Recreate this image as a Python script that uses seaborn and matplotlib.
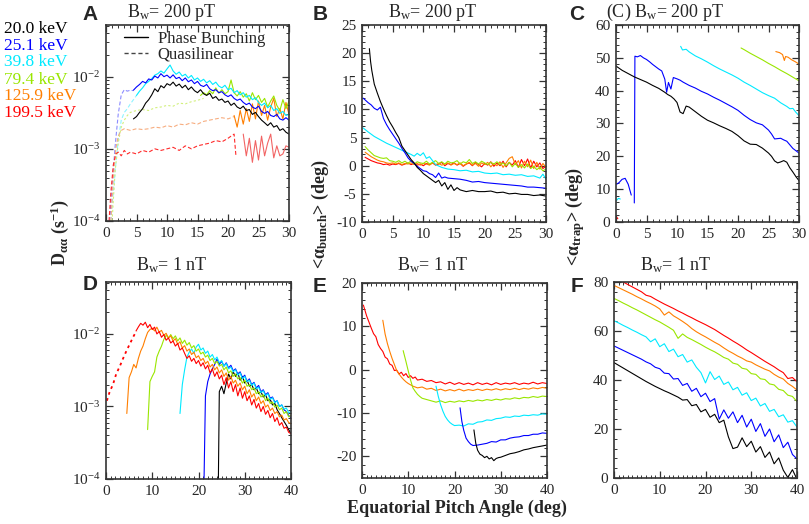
import numpy as np
import seaborn as sns
import matplotlib.pyplot as plt
from matplotlib.lines import Line2D
from matplotlib.ticker import MultipleLocator, LogLocator, LogFormatterMathtext, NullFormatter

sns.set_style("ticks")
plt.rcParams["font.family"] = ["Liberation Serif", "DejaVu Serif"]
plt.rcParams["mathtext.fontset"] = "custom"
plt.rcParams["mathtext.rm"] = "Liberation Serif"
plt.rcParams["mathtext.it"] = "Liberation Serif:italic"
plt.rcParams["mathtext.bf"] = "Liberation Serif:bold"
plt.rcParams["axes.unicode_minus"] = False

# ---------------- labels / colours ----------------
energies = ["20.0 keV", "25.1 keV", "39.8 keV", "79.4 keV", "125.9 keV", "199.5 keV"]
colors = ["#000000", "#0000ff", "#00eaff", "#99e600", "#ff7f00", "#ff0000"]
light = ["#000000", "#8c8cff", "#8ff4ff", "#d2f07c", "#f7ad80", "#ff2a2a"]

# ---------------- panel A: Daa, Bw = 200 pT (units of 1e-3 s^-1) ----------------
a_black_x = np.arange(4.5, 30.01, 0.5)
a_black = [2.6, 2.8, 3.2, 3.6, 4.3, 4.8, 5.6, 6.8, 6.2, 7.5,
           7.0, 8.0, 7.6, 8.4, 7.4, 7.9, 7.0, 7.6, 6.6, 7.2,
           6.4, 6.0, 6.6, 5.8, 5.5, 5.9, 5.0, 5.3, 4.7, 4.9,
           4.4, 4.6, 4.0, 4.3, 3.8, 3.6, 3.9, 3.4, 3.5, 3.0,
           3.2, 2.8, 2.5, 2.3, 2.1, 2.3, 2.0, 2.1, 1.8, 1.9,
           1.7, 1.6]
a_blue_x = np.arange(4.5, 30.01, 0.5)
a_blue = [6.5, 7.2, 7.8, 8.6, 8.2, 9.3, 9.0, 10.2, 9.6, 11.0,
          10.0, 10.5, 9.6, 10.6, 9.4, 9.8, 8.8, 9.6, 8.5, 9.0,
          8.0, 8.6, 7.6, 7.3, 7.8, 6.8, 6.4, 6.6, 6.0, 6.2,
          5.6, 5.3, 5.6, 5.0, 4.7, 4.9, 4.4, 4.1, 4.3, 3.8,
          3.6, 3.9, 3.3, 3.1, 3.3, 2.9, 2.8, 3.0, 2.6, 2.5,
          2.7, 2.5]
a_cyan_x = np.arange(5.0, 30.01, 0.5)
a_cyan = [5.5, 6.3, 7.0, 8.0, 8.6, 9.4, 10.5, 11.0, 12.0, 11.2,
          12.8, 14.5, 12.0, 10.8, 11.6, 10.2, 10.8, 9.6, 10.4, 9.0,
          9.6, 8.6, 9.2, 8.2, 8.8, 7.8, 8.4, 7.4, 7.0, 7.6,
          6.6, 6.9, 6.0, 6.4, 5.6, 6.0, 5.2, 5.5, 4.8, 5.1,
          4.4, 4.0, 4.3, 3.7, 4.0, 3.4, 3.6, 3.1, 3.3, 2.9,
          3.0]
a_yg_x = np.arange(15.5, 30.01, 0.5)
a_yg = [5.5, 6.0, 5.6, 6.4, 5.8, 7.0, 5.9, 6.6, 5.8, 6.2,
        9.0, 6.0, 5.4, 6.2, 5.2, 5.8, 4.6, 6.0, 4.8, 5.5,
        4.4, 5.0, 3.8, 4.6, 5.4, 4.0, 3.4, 4.8, 3.6, 4.6]
a_orange_x = np.arange(21.0, 30.01, 0.5)
a_orange = [2.9, 2.0, 3.4, 2.2, 3.6, 2.4, 4.2, 2.6, 4.6, 2.9,
            4.0, 2.5, 3.8, 5.0, 2.8, 3.6, 2.6, 4.4, 3.0]
a_red_x = np.arange(22.5, 30.01, 0.5)
a_red = [1.6, 0.8, 1.4, 0.65, 1.3, 0.7, 1.5, 0.8, 1.2, 1.6,
         0.75, 1.1, 0.8, 0.85, 1.1, 1.05]

# quasilinear (dashed)
ql_blue_x = [0.6, 1, 1.5, 2, 2.5, 3, 3.5, 4, 4.5]
ql_blue = [0.1, 0.3, 1.1, 3.0, 5.6, 6.6, 6.3, 6.5, 6.4]
ql_cyan_x = [0.8, 1.2, 1.6, 2, 2.5, 3, 3.5, 4, 4.5, 5]
ql_cyan = [0.1, 0.25, 0.6, 1.3, 2.5, 3.2, 3.6, 4.2, 4.8, 5.5]
ql_yg_x = [1, 1.5, 2, 2.5, 3, 3.5, 4, 5, 6, 7, 8, 9, 10, 11, 12, 13, 14, 15, 16]
ql_yg = [0.1, 0.5, 1.2, 2.0, 2.5, 2.9, 3.2, 3.4, 3.5, 3.4, 3.7, 3.8, 4.0, 3.9, 4.3, 4.2, 4.5, 4.7, 5.0]
ql_orange_x = [0.8, 1.2, 1.6, 2, 2.5, 3, 3.5, 4, 5, 6, 7, 8, 9, 10, 11, 12, 13, 14, 15, 16,
               17, 18, 19, 20, 21]
ql_orange = [0.1, 0.4, 1.0, 1.5, 1.8, 1.9, 1.85, 1.8, 1.9, 1.85, 1.9, 2.0, 1.95, 2.1, 2.0, 2.2,
             2.15, 2.3, 2.2, 2.4, 2.5, 2.6, 2.7, 2.6, 2.8]
ql_red_x = [0.5, 0.8, 1.2, 1.6, 2, 2.5, 3, 3.5, 4, 5, 6, 7, 8, 9, 10, 11, 12, 13, 14, 15,
            16, 17, 18, 19, 20, 20.5, 21, 21.3]
ql_red = [0.1, 0.25, 0.6, 0.85, 0.9, 0.8, 0.95, 0.85, 0.9, 0.85, 0.95, 0.9, 1.0, 0.95, 1.0,
          1.05, 0.95, 1.1, 1.0, 1.1, 1.15, 1.2, 1.3, 1.25, 1.4, 1.5, 1.6, 0.8]

# ---------------- panel B: <alpha_bunch>, Bw = 200 pT ----------------
b_black_x = [1.2, 1.4, 1.6, 2, 2.5, 3, 3.5, 4, 4.5, 5, 5.5, 6, 6.5, 7, 7.5, 8, 8.5, 9, 9.5, 10,
             10.5, 11, 11.5, 12, 12.5, 13, 13.5, 14, 14.5, 15, 15.5, 16, 17, 18, 19, 20, 21, 22,
             23, 24, 25, 26, 27, 28, 29, 30]
b_black = [20.8, 18.5, 16.9, 14.5, 12.9, 11.4, 10.1, 8.9, 7.8, 6.9,
           5.9, 5.0, 3.5, 2.7, 1.9, 1.1, 0.5, -0.3, -0.8, -1.4,
           -1.8, -2.2, -2.6, -3.0, -2.6, -3.6, -3.0, -4.2, -3.4, -4.4,
           -3.9, -4.3, -4.6, -4.4, -4.6, -4.6, -4.5, -4.8, -4.7, -5.0,
           -4.9, -5.1, -5.1, -5.3, -5.2, -5.4]
b_blue_x = [0.2, 0.5, 1, 1.5, 2, 2.5, 3, 3.5, 4, 4.5, 5, 5.5, 6, 6.5, 7, 7.5, 8, 8.5, 9, 9.5,
            10, 10.5, 11, 11.5, 12, 12.5, 13, 13.5, 14, 15, 16, 17, 18, 19, 20, 21, 22, 23, 24,
            25, 26, 27, 28, 29, 30]
b_blue = [12.0, 11.7, 11.2, 10.8, 10.2, 9.9, 10.4, 8.4, 7.3, 6.4,
          5.6, 4.8, 4.0, 3.1, 2.3, 1.4, 0.8, 0.4, -0.1, -0.5,
          -0.9, -1.0, -1.4, -1.6, -2.1, -1.3, -2.2, -2.0, -2.2, -2.3,
          -2.4, -2.6, -2.9, -2.8, -3.0, -3.1, -3.2, -3.3, -3.4, -3.5,
          -3.6, -3.8, -3.8, -3.9, -4.0]
b_cyan_x = [0.2, 1, 2, 3, 4, 5, 6, 7, 8, 8.5, 9, 9.5, 10, 10.5, 11, 11.5, 12, 13, 14, 15,
            16, 17, 18, 19, 20, 21, 22, 23, 24, 25, 26, 27, 28, 29, 29.5, 30]
b_cyan = [6.7, 6.0, 5.2, 4.6, 4.0, 3.5, 3.0, 2.5, 2.0, 1.7,
          2.2, 1.8, 2.3, 1.3, 1.6, 0.9, 0.2, -0.3, -0.6, -0.7,
          -0.9, -0.8, -1.1, -1.0, -1.3, -1.4, -1.3, -1.6, -1.5, -1.7,
          -1.6, -1.9, -1.8, -2.2, -1.5, -2.4]
b_grid = np.arange(0.5, 30.01, 0.5)
b_yg = [3.4, 2.8, 2.3, 1.8, 1.6, 1.4, 1.3, 1.4, 0.9, 0.8,
        0.6, 0.9, 0.5, 0.8, 0.4, 0.9, 0.3, 0.7, 0.5, 0.4,
        0.8, 0.3, 0.6, 0.9, 0.4, 0.7, 0.3, 0.8, 0.5, 0.6,
        0.9, 0.3, 0.7, 0.5, 1.1, 0.4, 0.7, 0.3, 0.8, 0.5,
        0.2, 0.6, 0.3, 0.7, 0.2, 0.5, 0.0, 0.6, -0.2, 0.4,
        -0.3, 0.2, -0.4, 0.3, -0.5, -0.1, -0.7, -0.3, -0.9, -0.6]
b_orange = [2.4, 2.0, 1.6, 1.3, 1.0, 0.8, 0.7, 0.5, 0.4, 0.5,
            0.3, 0.5, 0.2, 0.4, 0.3, 0.5, 0.2, 0.4, 0.1, 0.4,
            0.3, 0.1, 0.5, 0.2, 0.4, 0.1, 0.3, 0.5, 0.1, 0.4,
            0.2, 0.5, 0.0, 0.3, 0.6, 0.1, 0.4, -0.1, 0.5, 0.2,
            0.6, -0.2, 0.4, 0.0, 0.7, -0.3, 0.5, 1.3, 1.6, 0.2,
            0.9, -0.4, 0.8, -0.2, 1.0, -0.5, 0.6, -0.6, 0.4, -0.3]
b_red = [1.5, 1.2, 0.9, 0.7, 0.5, 0.4, 0.2, 0.3, 0.1, 0.3,
         0.2, 0.4, 0.1, 0.3, 0.5, 0.2, 0.4, 0.1, 0.3, 0.0,
         0.4, 0.2, 0.5, 0.1, 0.3, 0.6, 0.0, 0.4, 0.2, 0.5,
         0.1, 0.4, -0.1, 0.3, 0.5, 0.0, 0.6, 0.2, -0.2, 0.4,
         0.1, 0.7, -0.1, 0.5, 0.0, 0.8, -0.2, 0.6, 0.1, 0.9,
         -0.3, 1.1, 0.0, 1.2, -0.4, 0.8, -0.2, 0.5, -0.5, -0.1]

# ---------------- panel C: <alpha_trap>, Bw = 200 pT ----------------
c_black_x = [0, 1, 2, 3, 4, 5, 6, 7, 8, 8.5, 9, 9.5, 10, 10.5, 11, 11.5, 12, 13, 14, 15,
             16, 17, 18, 19, 20, 21, 22, 23, 24, 25, 25.5, 26, 26.5, 27, 27.5, 28, 28.5, 29,
             29.5, 30]
c_black = [47.5, 46.2, 45.2, 44.2, 43.4, 42.6, 41.6, 40.7, 39.5, 38.8,
           38.3, 37.5, 36.4, 33.5, 33.0, 35.3, 35.0, 33.6, 32.2, 31.0,
           30.2, 29.3, 28.5, 27.6, 26.3, 24.7, 23.7, 23.6, 22.5, 21.0,
           20.0, 18.6, 18.0, 18.3, 18.7, 18.2, 16.5, 15.2, 13.8, 12.6]
c_blue1_x = [0.1, 0.5, 1, 1.5, 2, 2.5]
c_blue1 = [11.5, 12.0, 13.0, 13.3, 11.5, 8.2]
c_blue2_x = [3.0, 3.1, 3.5, 4, 4.5, 5, 5.5, 6, 6.5, 7, 7.5, 8, 8.3, 8.6, 9, 9.4, 10, 10.5,
             11, 12, 13, 14, 15, 16, 17, 18, 19, 20, 21, 22, 23, 24, 25, 25.5, 26, 27, 27.5,
             28, 29, 30]
c_blue2 = [5.8, 50.5, 50.3, 50.7, 50.0, 49.5, 48.8, 48.0, 47.3, 46.6,
           46.0, 43.5, 39.5, 42.5, 40.5, 44.0, 43.6, 43.2, 42.6, 41.6,
           40.8, 39.8, 39.0, 38.0, 37.1, 36.1, 35.1, 34.0, 32.5, 31.2,
           30.2, 29.6, 28.0, 26.8, 25.3, 25.5, 25.0, 24.6, 22.4, 21.0]
c_cyan1_x = [0.1, 0.4, 0.7]
c_cyan1 = [6.6, 7.2, 7.0]
c_cyan2_x = [10.6, 10.9, 11.5, 12, 13, 14, 15, 16, 17, 18, 19, 20, 21, 22, 23, 24, 25, 26,
             27, 28, 28.5, 29, 29.5, 30]
c_cyan2 = [53.5, 52.4, 52.6, 51.8, 50.6, 49.7, 48.7, 47.6, 46.6, 45.7,
           44.8, 43.8, 42.6, 41.6, 40.5, 39.4, 38.5, 37.7, 36.3, 35.2,
           34.5, 34.6, 33.4, 32.4]
c_yg_x = [20.5, 21, 22, 23, 24, 25, 26, 27, 28, 29, 30]
c_yg = [53.0, 52.5, 51.4, 50.4, 49.4, 48.3, 47.3, 46.2, 45.2, 44.1, 43.0]
c_orange_x = [26.2, 26.8, 27.3, 27.6, 27.8, 28.2, 28.8, 29.4, 30]
c_orange = [51.9, 51.6, 51.0, 49.2, 50.4, 50.2, 49.4, 48.8, 48.1]
c_red_x = [0.1, 0.3]
c_red = [1.5, 1.0]

# ---------------- panel D: Daa, Bw = 1 nT (units of 1e-3 s^-1) ----------------
d_red_dot_x = [0.2, 0.8, 1.5, 2.2, 3, 3.7, 4.4, 5.2, 6, 6.6]
d_red_dot = [1.2, 1.6, 2.0, 2.8, 3.6, 4.6, 5.8, 7.4, 9.4, 11.0]
d_red_x = np.arange(6.5, 40.01, 0.5)
d_red = [11, 12.5, 14, 13.2, 14.5, 12.2, 13.5, 11.5, 12.4, 10.0,
         10.8, 9.0, 9.8, 8.2, 8.8, 7.5, 8.0, 6.8, 7.4, 6.0,
         6.4, 5.4, 4.6, 5.0, 4.2, 4.6, 3.9, 4.3, 3.6, 4.0,
         3.3, 3.7, 2.9, 3.3, 2.6, 3.0, 2.4, 2.7, 2.0, 2.5,
         1.8, 2.2, 1.6, 2.0, 1.4, 1.8, 1.3, 1.6, 1.2, 1.4,
         1.05, 1.25, 0.95, 1.1, 0.85, 1.0, 0.78, 0.88, 0.7, 0.8,
         0.62, 0.7, 0.55, 0.6, 0.5, 0.52, 0.44, 0.42]
d_orange_x = np.arange(4.5, 40.01, 0.5)
d_orange = [0.8, 2.5, 3.0, 3.8, 3.4, 4.6, 5.8, 6.8, 8.6, 10.5,
            11.5, 12.0, 11.0, 12.4, 10.6, 11.2, 9.6, 10.2, 8.8, 9.4,
            8.0, 8.6, 7.2, 7.8, 6.4, 6.9, 5.8, 6.2, 5.2, 5.6,
            4.7, 5.0, 4.3, 4.6, 3.9, 4.2, 3.5, 3.8, 3.2, 3.5,
            2.9, 3.2, 2.6, 2.9, 2.3, 2.6, 2.1, 2.3, 1.9, 2.1,
            1.7, 1.9, 1.5, 1.7, 1.35, 1.5, 1.2, 1.35, 1.1, 1.2,
            0.98, 1.05, 0.88, 0.95, 0.8, 0.85, 0.72, 0.76, 0.65, 0.68,
            0.6, 0.58]
d_yg_x = np.arange(9.0, 40.01, 0.5)
d_yg = [0.48, 2.2, 2.6, 3.0, 4.8, 5.8, 6.8, 8.4, 9.6, 8.8,
        9.8, 8.6, 9.4, 8.0, 8.8, 7.4, 8.2, 7.0, 7.6, 6.4,
        6.9, 5.8, 6.2, 5.3, 5.6, 4.8, 5.1, 4.3, 4.6, 3.9,
        4.2, 3.6, 3.8, 3.2, 3.5, 2.9, 3.1, 2.6, 2.8, 2.4,
        2.5, 2.1, 2.3, 1.9, 2.0, 1.7, 1.8, 1.5, 1.6, 1.35,
        1.45, 1.2, 1.3, 1.1, 1.15, 0.98, 1.05, 0.9, 0.95, 0.8,
        0.85, 0.72, 0.75]
d_cyan_x = np.arange(16.0, 40.01, 0.5)
d_cyan = [0.8, 2.0, 3.2, 4.8, 5.6, 6.2, 5.4, 6.6, 7.2, 6.0,
          6.4, 5.4, 5.8, 4.8, 5.2, 4.4, 4.8, 4.0, 4.3, 3.6,
          3.9, 3.3, 3.5, 3.0, 3.2, 2.7, 2.9, 2.4, 2.6, 2.2,
          2.3, 1.95, 2.1, 1.75, 1.85, 1.55, 1.65, 1.4, 1.5, 1.25,
          1.32, 1.12, 1.2, 1.0, 1.05, 0.92, 0.95, 0.82, 0.85]
d_blue_x = np.r_[21.2, np.arange(21.5, 40.01, 0.5)]
d_blue = [0.1, 1.4, 2.2, 2.8, 3.3, 3.8, 4.5, 3.8, 4.2, 3.6,
          4.0, 3.4, 3.7, 3.1, 3.3, 2.8, 3.0, 2.5, 2.7, 2.2,
          2.4, 2.0, 2.15, 1.8, 1.95, 1.6, 1.7, 1.45, 1.55, 1.3,
          1.35, 1.15, 1.2, 1.0, 1.05, 0.9, 0.85, 0.75, 0.7]
d_black_x = np.r_[24.3, np.arange(24.5, 40.01, 0.5)]
d_black = [0.1, 1.6, 1.9, 1.5, 2.1, 2.8, 2.4, 3.0, 2.6, 2.9,
           2.3, 2.6, 2.1, 2.3, 1.9, 2.0, 1.7, 1.8, 1.5, 1.6,
           1.35, 1.45, 1.2, 1.25, 1.05, 1.1, 0.9, 0.8, 0.7, 0.62,
           0.55, 0.48, 0.42]

# ---------------- panel E: <alpha_bunch>, Bw = 1 nT ----------------
e_red_x = [0.3, 1, 1.5, 2, 2.5, 3, 3.5, 4, 4.5, 5, 5.5, 6, 6.5, 7, 7.5, 8, 8.5, 9, 9.5, 10,
           10.5, 11, 11.5, 12, 13, 14, 15, 16, 17, 18, 19, 20, 21, 22, 23, 24, 25, 26, 27, 28,
           29, 30, 31, 32, 33, 34, 35, 36, 37, 38, 39, 40]
e_red = [14.9, 12.4, 11.0, 9.6, 8.3, 7.6, 5.8, 4.9, 4.2, 2.9,
         2.5, 1.3, 1.0, -0.2, -0.1, -1.0, -0.6, -1.4, -0.9, -1.8,
         -1.4, -2.0, -1.7, -2.4, -2.2, -2.7, -2.5, -3.0, -2.8, -3.3,
         -2.9, -3.4, -3.0, -3.4, -3.1, -3.5, -3.0, -3.4, -3.1, -3.5,
         -3.0, -3.4, -3.1, -3.3, -3.0, -3.4, -3.1, -3.3, -2.9, -3.3,
         -3.0, -3.2]
e_orange_x = [4.5, 5, 5.5, 6, 6.5, 7, 7.5, 8, 8.5, 9, 9.5, 10, 10.5, 11, 12, 13, 14, 15, 16,
              17, 18, 19, 20, 21, 22, 23, 24, 25, 26, 27, 28, 29, 30, 31, 32, 33, 34, 35, 36,
              37, 38, 39, 40]
e_orange = [11.4, 8.2, 6.0, 4.2, 2.6, 1.2, -0.2, -1.0, -1.7, -2.3,
            -2.8, -3.2, -3.5, -3.8, -4.2, -4.0, -4.5, -4.3, -4.8, -4.5,
            -4.9, -4.6, -4.9, -4.5, -4.9, -4.6, -4.8, -4.5, -4.8, -4.5,
            -4.7, -4.4, -4.7, -4.4, -4.6, -4.3, -4.6, -4.3, -4.5, -4.2,
            -4.4, -4.1, -4.3]
e_yg_x = [8.9, 9.5, 10, 10.5, 11, 11.5, 12, 12.5, 13, 14, 15, 16, 17, 18, 19, 20, 21, 22, 23,
          24, 25, 26, 27, 28, 29, 30, 31, 32, 33, 34, 35, 36, 37, 38, 39, 40]
e_yg = [4.4, 1.9, -0.3, -2.4, -4.2, -5.0, -5.7, -6.2, -6.6, -6.9,
        -7.2, -7.5, -7.2, -7.6, -7.3, -7.5, -7.2, -7.4, -7.1, -7.3,
        -7.0, -7.2, -6.9, -7.1, -6.8, -7.0, -6.7, -6.8, -6.5, -6.7,
        -6.4, -6.5, -6.2, -6.4, -6.1, -6.2]
e_cyan_x = [16, 16.5, 17, 17.5, 18, 18.5, 19, 19.5, 20, 21, 22, 23, 24, 25, 26, 27, 28, 29,
            30, 31, 32, 33, 34, 35, 36, 37, 38, 39, 40]
e_cyan = [-3.8, -6.2, -8.1, -9.6, -10.8, -11.6, -12.2, -12.6, -12.9, -12.8,
          -13.0, -12.5, -12.6, -12.1, -12.0, -11.6, -11.7, -11.3, -11.2, -10.9,
          -11.0, -10.7, -10.8, -10.5, -10.6, -10.4, -10.5, -10.2, -10.3]
e_blue_x = [21.2, 21.6, 22, 22.5, 23, 23.5, 24, 25, 26, 27, 28, 29, 30, 31, 32, 33, 34, 35,
            36, 37, 38, 39, 40]
e_blue = [-8.8, -12.0, -14.0, -15.8, -16.6, -17.2, -17.5, -17.4, -17.2, -17.0,
          -16.6, -16.7, -16.2, -16.2, -15.8, -15.6, -15.5, -15.2, -15.2, -14.9,
          -14.9, -14.6, -14.7]
e_black_x = [24.2, 24.6, 25, 25.5, 26, 26.5, 27, 27.5, 28, 28.5, 29, 29.5, 30, 31, 32, 33, 34,
             35, 36, 37, 38, 39, 40]
e_black = [-13.9, -17.0, -18.6, -19.5, -19.8, -20.3, -20.0, -20.6, -20.3, -21.0,
           -20.5, -20.3, -20.2, -19.8, -19.4, -19.2, -18.9, -18.5, -18.3, -18.0,
           -17.8, -17.6, -17.4]

# ---------------- panel F: <alpha_trap>, Bw = 1 nT ----------------
f_x = np.arange(0, 41, 1)
f_red = [82.0, 81.0, 80.0, 79.0, 78.0, 77.0, 76.0, 74.6, 74.1, 73.0,
         72.0, 71.0, 70.1, 69.2, 68.2, 67.3, 66.3, 65.4, 64.4, 63.5,
         62.6, 61.6, 60.6, 59.4, 58.2, 57.1, 55.9, 54.8, 53.6, 52.3,
         51.2, 50.0, 48.8, 47.6, 46.5, 45.4, 44.1, 43.0, 40.6, 41.0,
         39.3]
f_orange = [78.6, 77.7, 76.8, 75.9, 75.0, 74.0, 73.1, 72.1, 71.2, 70.2,
            69.0, 66.5, 67.8, 66.2, 65.1, 63.9, 62.6, 61.0, 59.7, 58.6,
            57.6, 56.5, 55.4, 54.4, 53.1, 51.9, 50.9, 49.8, 48.9, 47.8,
            47.3, 46.2, 45.3, 44.4, 43.7, 42.3, 41.2, 40.4, 38.6, 37.4,
            35.9]
f_yg = [73.3, 72.4, 71.4, 70.5, 69.5, 68.6, 67.6, 66.6, 65.6, 64.6,
        63.7, 62.6, 61.5, 60.3, 57.0, 58.8, 57.4, 56.5, 55.5, 54.5,
        53.4, 52.4, 51.5, 50.4, 49.2, 48.5, 46.9, 46.4, 44.8, 44.4,
        42.6, 42.3, 40.5, 40.2, 38.4, 38.0, 36.2, 35.7, 33.8, 33.3,
        31.2]
f_cyan = [64.2, 63.3, 62.3, 61.4, 60.4, 59.5, 58.5, 57.6, 55.6, 56.8,
          53.6, 54.8, 51.6, 52.6, 49.5, 50.4, 47.3, 48.2, 45.2, 43.0,
          38.8, 43.4, 40.2, 41.6, 38.2, 39.2, 36.0, 37.0, 33.8, 34.8,
          31.6, 32.6, 29.4, 30.4, 27.2, 28.0, 25.0, 25.8, 22.8, 23.4,
          20.8]
f_blue = [53.9, 53.0, 52.1, 51.2, 50.3, 49.4, 48.5, 47.4, 46.6, 45.2,
          44.6, 42.8, 42.6, 40.4, 40.6, 37.8, 38.6, 35.4, 36.6, 33.2,
          34.6, 31.2, 32.4, 24.0, 27.8, 24.4, 27.0, 22.6, 25.6, 20.8,
          24.0, 19.0, 22.2, 17.0, 20.0, 14.8, 17.6, 12.4, 14.6, 9.6,
          7.8]
f_black = [47.1, 46.0, 44.9, 43.8, 42.7, 41.6, 40.5, 39.4, 38.4, 37.4,
           36.5, 35.6, 34.8, 33.9, 33.0, 31.8, 32.0, 29.5, 30.0, 27.0,
           28.0, 24.8, 26.0, 22.6, 23.6, 16.8, 12.0, 12.6, 16.4, 12.8,
           15.0, 10.6, 12.8, 8.4, 10.6, 5.8, 8.2, 3.2, 0.2, 3.4,
           -0.5]

# ---------------- figure ----------------
W, H = 809, 524
fig = plt.figure(figsize=(W / 100, H / 100), dpi=100)


def box(l, t, r, b):
    return [l / W, 1 - b / H, (r - l) / W, (b - t) / H]


def draw(ax, x, y, color, scale=1.0, **kw):
    sns.lineplot(x=np.asarray(x, float), y=np.asarray(y, float) * scale, ax=ax,
                 color=color, lw=kw.pop("lw", 0.8), estimator=None, sort=False,
                 legend=False, **kw)


def style(ax, xmax, xmaj, ylim=None, ymaj=None, ymin=None, log=False):
    ax.set_xlim(0, xmax)
    ax.xaxis.set_major_locator(MultipleLocator(xmaj))
    ax.xaxis.set_minor_locator(MultipleLocator(1))
    if log:
        ax.set_yscale("log")
        ax.set_ylim(1e-4, 5.2e-2)
        ax.yaxis.set_major_locator(LogLocator(base=10, numticks=10))
        ax.yaxis.set_minor_locator(LogLocator(base=10, subs=np.arange(2, 10), numticks=20))
        ax.yaxis.set_major_formatter(LogFormatterMathtext())
        ax.yaxis.set_minor_formatter(NullFormatter())
    else:
        ax.set_ylim(*ylim)
        ax.yaxis.set_major_locator(MultipleLocator(ymaj))
        ax.yaxis.set_minor_locator(MultipleLocator(ymin))
    ax.tick_params(which="both", direction="in", top=True, right=True,
                   labelsize=11, pad=4, color="#333333")
    ax.tick_params(which="major", length=5, width=0.9)
    ax.tick_params(which="minor", length=2.5, width=0.7)
    for s in ax.spines.values():
        s.set_linewidth(1.2)
        s.set_color("#333333")
    ax.set_xlabel("")
    ax.set_ylabel("")


axA = fig.add_axes(box(106, 25, 289, 221))
axB = fig.add_axes(box(362, 25, 546, 222))
axC = fig.add_axes(box(616, 25, 799, 222))
axD = fig.add_axes(box(106, 282, 291, 479))
axE = fig.add_axes(box(362, 283, 547, 478))
axF = fig.add_axes(box(614, 282, 797, 478))

# --- A ---
dash = (0, (3.5, 2))
draw(axA, ql_blue_x, ql_blue, light[1], 1e-3, linestyle=dash)
draw(axA, ql_cyan_x, ql_cyan, light[2], 1e-3, linestyle=dash)
draw(axA, ql_yg_x, ql_yg, light[3], 1e-3, linestyle=(0, (2, 2)))
draw(axA, ql_orange_x, ql_orange, light[4], 1e-3, linestyle=dash)
draw(axA, ql_red_x, ql_red, light[5], 1e-3, linestyle=dash)
draw(axA, a_red_x, a_red, "#f26464", 1e-3)
draw(axA, a_orange_x, a_orange, colors[4], 1e-3)
draw(axA, a_yg_x, a_yg, colors[3], 1e-3)
draw(axA, a_cyan_x, a_cyan, colors[2], 1e-3)
draw(axA, a_blue_x, a_blue, colors[1], 1e-3)
draw(axA, a_black_x, a_black, colors[0], 1e-3)
style(axA, 30, 5, log=True)
handles = [Line2D([], [], color="black", lw=1.0),
           Line2D([], [], color="#444444", lw=1.0, linestyle=(0, (3, 2)))]
axA.legend(handles, ["Phase Bunching", "Quasilinear"], loc="upper left",
           bbox_to_anchor=(0.1, 0.97), frameon=False, fontsize=12,
           handlelength=1.4, handletextpad=0.6, labelspacing=0.0,
           borderaxespad=0, borderpad=0)

# --- B ---
draw(axB, b_grid, b_red, colors[5])
draw(axB, b_grid, b_orange, colors[4])
draw(axB, b_grid, b_yg, colors[3])
draw(axB, b_cyan_x, b_cyan, colors[2])
draw(axB, b_blue_x, b_blue, colors[1])
draw(axB, b_black_x, b_black, colors[0])
style(axB, 30, 5, ylim=(-10, 25), ymaj=5, ymin=1)

# --- C ---
draw(axC, c_red_x, c_red, colors[5])
draw(axC, c_orange_x, c_orange, colors[4])
draw(axC, c_yg_x, c_yg, colors[3])
draw(axC, c_cyan1_x, c_cyan1, colors[2])
draw(axC, c_cyan2_x, c_cyan2, colors[2])
draw(axC, c_blue1_x, c_blue1, colors[1])
draw(axC, c_blue2_x, c_blue2, colors[1])
draw(axC, c_black_x, c_black, colors[0])
style(axC, 30, 5, ylim=(0, 60), ymaj=10, ymin=2)

# --- D ---
draw(axD, d_red_dot_x, d_red_dot, colors[5], 1e-3, linestyle=(0, (1.5, 2)), lw=1.3)
draw(axD, d_black_x, d_black, colors[0], 1e-3)
draw(axD, d_blue_x, d_blue, colors[1], 1e-3)
draw(axD, d_cyan_x, d_cyan, colors[2], 1e-3)
draw(axD, d_yg_x, d_yg, colors[3], 1e-3)
draw(axD, d_orange_x, d_orange, colors[4], 1e-3)
draw(axD, d_red_x, d_red, colors[5], 1e-3)
style(axD, 40, 10, log=True)

# --- E ---
draw(axE, e_red_x, e_red, colors[5])
draw(axE, e_orange_x, e_orange, colors[4])
draw(axE, e_yg_x, e_yg, colors[3])
draw(axE, e_cyan_x, e_cyan, colors[2])
draw(axE, e_blue_x, e_blue, colors[1])
draw(axE, e_black_x, e_black, colors[0])
style(axE, 40, 10, ylim=(-25, 20), ymaj=10, ymin=2)

# --- F ---
for vals, c in zip([f_red, f_orange, f_yg, f_cyan, f_blue, f_black], colors[::-1]):
    draw(axF, f_x, vals, c)
style(axF, 40, 10, ylim=(0, 80), ymaj=20, ymin=4)

# ---------------- text ----------------
def ftext(x, y, s, **kw):
    fig.text(x / W, 1 - y / H, s, **kw)


sans = ["Liberation Sans", "DejaVu Sans"]
for lab, (x, y) in zip("ABCDEF", [(90, 14), (320, 14), (577, 14),
                                  (90, 285), (320, 287), (577, 287)]):
    ftext(x, y, lab, family=sans, fontweight="bold", fontsize=15, ha="center", va="center")

bw200 = r"B$_\mathrm{w}$= 200 pT"
bw1 = r"B$_\mathrm{w}$= 1 nT"
ftext(172, 17, bw200, fontsize=13, ha="center", va="baseline")
ftext(433, 17, bw200, fontsize=13, ha="center", va="baseline")
ftext(665, 17, "(C) " + bw200, fontsize=13, ha="center", va="baseline")
ftext(172, 270, bw1, fontsize=13, ha="center", va="baseline")
ftext(433, 270, bw1, fontsize=13, ha="center", va="baseline")
ftext(676, 270, bw1, fontsize=13, ha="center", va="baseline")

for lab, c, y in zip(energies, colors, [29, 46, 62.5, 79.5, 96.5, 113]):
    ftext(4, y, lab, color=c, fontsize=12.5, ha="left", va="center")

ftext(60, 233, r"D$_{\mathbf{\alpha\alpha}}$ (s$^{\mathbf{-1}}$)", fontsize=13,
      fontweight="bold", rotation=90, ha="center", va="center")
ftext(320, 214, r"<$\mathbf{\alpha}_{\mathbf{bunch}}$> (deg)", fontsize=13,
      fontweight="bold", rotation=90, ha="center", va="center")
ftext(575, 216, r"<$\mathbf{\alpha}_{\mathbf{trap}}$> (deg)", fontsize=13,
      fontweight="bold", rotation=90, ha="center", va="center")
ftext(457, 508, "Equatorial Pitch Angle (deg)", fontsize=13, fontweight="bold",
      ha="center", va="center")

fig.savefig("out.png", dpi=100)
